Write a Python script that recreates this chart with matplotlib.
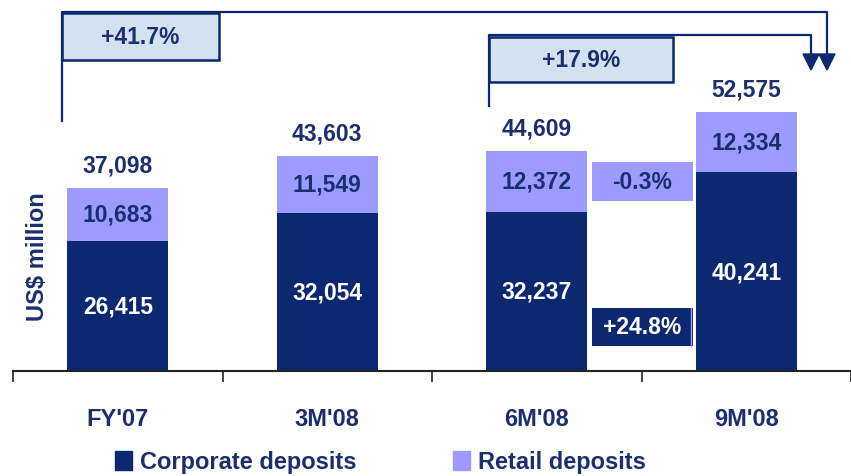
import numpy as np
import matplotlib.pyplot as plt
from matplotlib.patches import Rectangle, Patch

periods = ["FY'07", "3M'08", "6M'08", "9M'08"]
corporate = [26415, 32054, 32237, 40241]
retail = [10683, 11549, 12372, 12334]
totals = [37098, 43603, 44609, 52575]

NAVY = '#0b2870'
TEXT = '#1b2f6e'
LILAC = '#9d9bff'
PALE = '#d4e1f0'

plt.rcParams['font.family'] = ['Liberation Sans', 'DejaVu Sans']
plt.rcParams['font.weight'] = 'bold'

W, H = 851, 477
fig = plt.figure(figsize=(W / 100, H / 100), dpi=100)
ax = fig.add_axes([13 / W, 1 - 372 / H, 838 / W, 372 / H])


def px(x, y):
    # pixel position (from top-left) -> figure fraction
    return x / W, 1 - y / H


x = np.arange(len(periods))
ax.bar(x, corporate, width=0.48, color=NAVY, zorder=2)
ax.bar(x, retail, width=0.48, bottom=corporate, color=LILAC, zorder=2)

for i in range(len(periods)):
    ax.text(x[i], corporate[i] / 2, f'{corporate[i]:,}', ha='center', va='center',
            color='white', fontsize=16.5, fontweight='bold')
    ax.text(x[i], corporate[i] + retail[i] / 2, f'{retail[i]:,}', ha='center', va='center',
            color=TEXT, fontsize=16.5, fontweight='bold')
    ax.annotate(f'{totals[i]:,}', (x[i], totals[i]), xytext=(0, 8), textcoords='offset points',
                ha='center', va='bottom', color=TEXT, fontsize=16.5, fontweight='bold')

ax.set_xlim(-0.5, 3.5)
ax.set_ylim(0, 75400)
ax.set_xticks(np.arange(-0.5, 4, 1))
ax.set_xticklabels([])
ax.set_xticks(x, minor=True)
ax.set_xticklabels(periods, minor=True, color=TEXT, fontsize=17, fontweight='bold')
ax.tick_params(axis='x', which='major', length=8, width=1.2, direction='out', color='#222222')
ax.tick_params(axis='x', which='minor', length=0, pad=26)
ax.set_yticks([])
for s in ['top', 'right', 'left']:
    ax.spines[s].set_visible(False)
ax.spines['bottom'].set_linewidth(1.5)
ax.spines['bottom'].set_color('#222222')

fig.text(*px(37, 257), 'US$ million', rotation=90, ha='center', va='center',
         color=TEXT, fontsize=17, fontweight='bold')

# growth brackets
lw = 1.6
fig.add_artist(plt.Line2D(*zip(px(62, 122), px(62, 13), px(827, 13), px(827, 58)),
                          color=NAVY, lw=lw))
fig.add_artist(plt.Line2D(*zip(px(489, 107), px(489, 36), px(811, 36), px(811, 58)),
                          color=NAVY, lw=lw))
for ax_x in [827, 811]:
    fig.add_artist(plt.Polygon([px(ax_x - 8, 55), px(ax_x + 8, 55), px(ax_x, 71)],
                               closed=True, color=NAVY, transform=fig.transFigure))


def box(x0, y0, x1, y1, label, fc, ec, tc):
    bx, by = px(x0, y1)
    fig.add_artist(Rectangle((bx, by), (x1 - x0) / W, (y1 - y0) / H, facecolor=fc,
                             edgecolor=ec, lw=1.8 if ec != 'none' else 0,
                             transform=fig.transFigure))
    fig.text(*px((x0 + x1) / 2, (y0 + y1) / 2), label, ha='center', va='center',
             color=tc, fontsize=16.5, fontweight='bold')


box(62, 14, 219, 61, '+41.7%', PALE, NAVY, TEXT)
box(489, 38, 673, 83, '+17.9%', PALE, NAVY, TEXT)
box(592, 163, 693, 202, '-0.3%', LILAC, 'none', TEXT)
box(592, 309, 693, 347, '+24.8%', NAVY, 'none', 'white')
fig.add_artist(plt.Line2D(*zip(px(691, 309), px(691, 347)), color=LILAC, lw=1))

handles = [Patch(color=NAVY), Patch(color=LILAC)]
fig.legend(handles, ['Corporate deposits', 'Retail deposits'], ncol=2, frameon=False,
           loc='center left', bbox_to_anchor=px(115, 463),
           prop={'weight': 'bold', 'size': 17}, labelcolor=TEXT,
           handlelength=0.72, handleheight=0.85, handletextpad=0.34,
           columnspacing=4.1, borderpad=0, borderaxespad=0)

fig.savefig('out.png', dpi=100)
